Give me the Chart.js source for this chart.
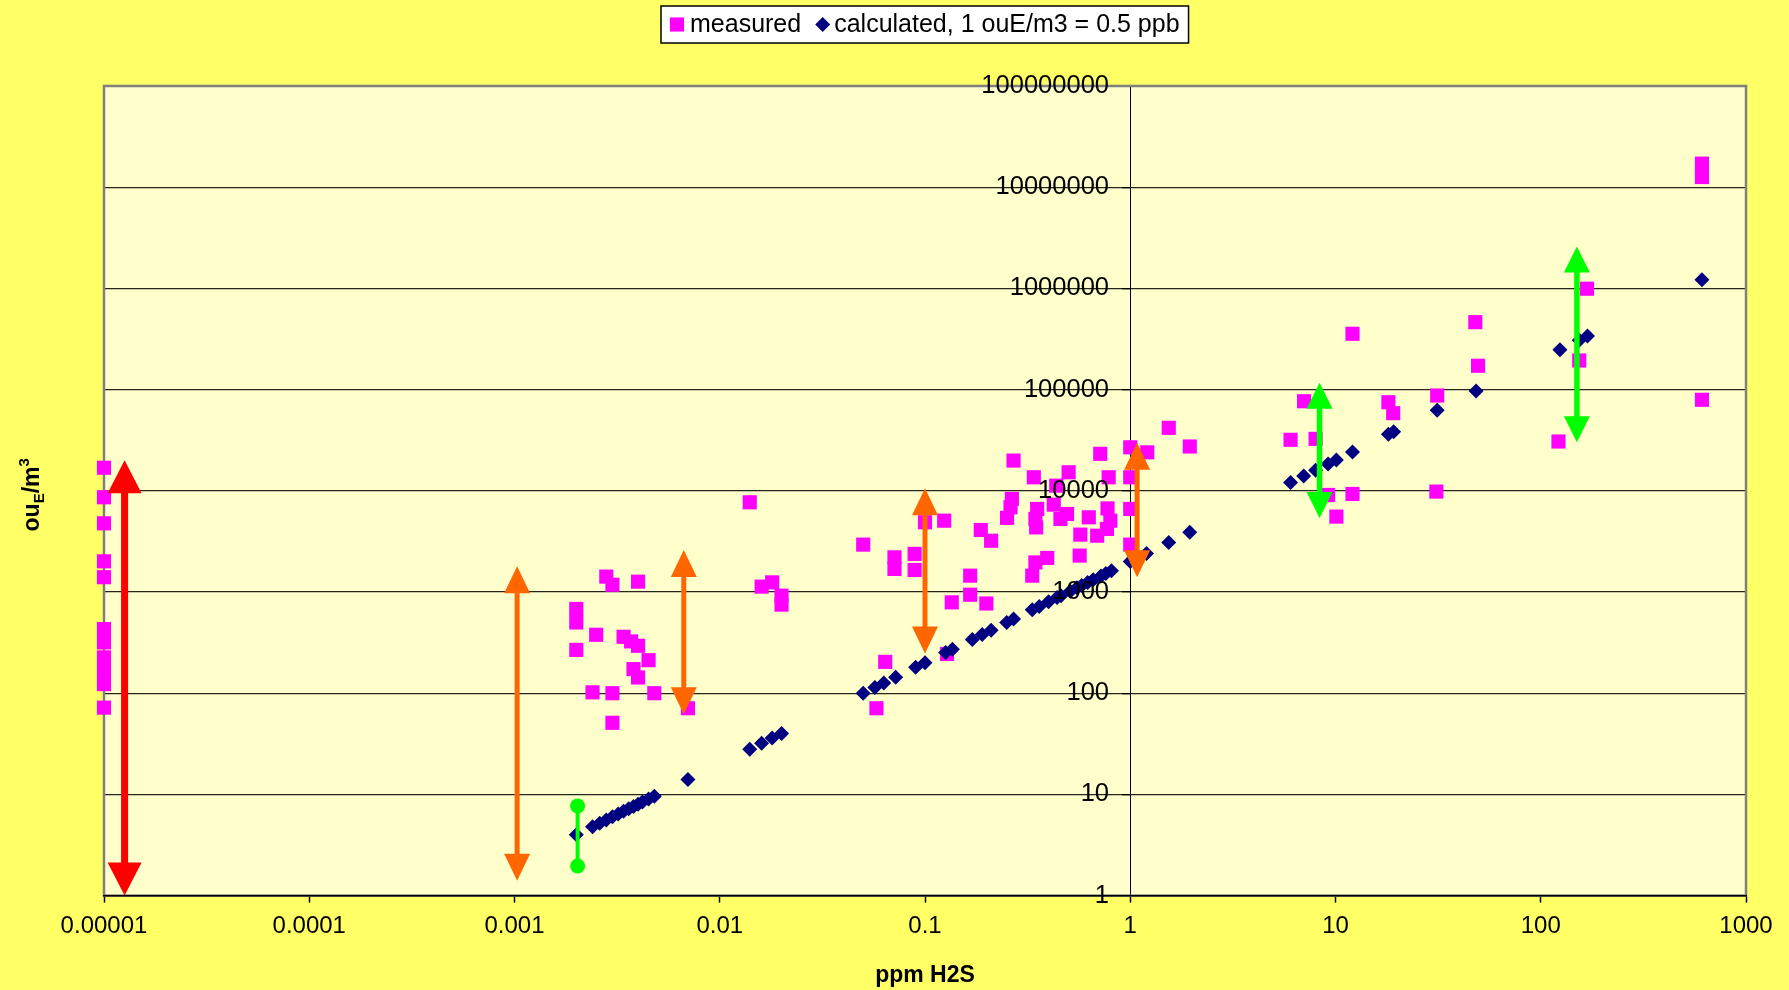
<!DOCTYPE html>
<html>
<head>
<meta charset="utf-8">
<script src="https://cdn.jsdelivr.net/npm/chart.js@4.4.1/dist/chart.umd.min.js"></script>
<style>
  html, body { margin: 0; padding: 0; background: #FFFF66; }
  #c { display: block; width: 1789px; height: 990px; }
</style>
</head>
<body>
<canvas id="c" width="1789" height="990"></canvas>
<script>
// ---------- data ----------
const xTickLabels = ['0.00001', '0.0001', '0.001', '0.01', '0.1', '1', '10', '100', '1000'];
const yTickLabels = ['1', '10', '100', '1000', '10000', '100000', '1000000', '10000000', '100000000'];

const measuredX = [
  0.00001, 0.00001, 0.00001, 0.00001, 0.00001, 0.00001, 0.00001, 0.00001, 0.00001, 0.00001, 0.00001,
  0.0028, 0.0030, 0.0040, 0.0020, 0.0020, 0.0025, 0.0020, 0.0034, 0.0037, 0.0040, 0.0045, 0.0038, 0.0040,
  0.0024, 0.0030, 0.0048, 0.0030, 0.0070,
  0.014, 0.016, 0.018, 0.020, 0.020,
  0.050, 0.071, 0.071, 0.089, 0.089, 0.100, 0.124, 0.064, 0.058, 0.135, 0.128, 0.166, 0.166, 0.199,
  0.187, 0.210, 0.270, 0.265, 0.261, 0.251,
  0.339, 0.352, 0.345, 0.348, 0.345, 0.333, 0.394, 0.436, 0.424, 0.457, 0.492, 0.501, 0.628, 0.571,
  0.567, 0.69, 0.714, 0.785, 0.775, 0.80, 0.77, 1.0, 1.21, 1.54, 1.95, 1.0, 1.0, 1.0,
  6.04, 7.03, 8.0, 9.2, 10.1, 12.1, 12.1, 18.1, 19.1, 31.3, 31.0, 48, 49.5, 122, 154, 168, 610, 610, 610
];
const measuredY = [
  16900, 8630, 4770, 2010, 1400, 430, 318, 226, 167, 123, 72,
  1420, 1180, 1265, 680, 500, 378, 268, 361, 325, 294, 212, 173, 143,
  102, 100, 100, 51, 71,
  7700, 1130, 1245, 920, 750,
  2940, 2200, 1690, 2380, 1650, 4890, 5070, 204, 71, 790, 244, 1450, 940, 770,
  4100, 3210, 19900, 8320, 6870, 5400,
  13600, 6620, 5270, 4350, 1960, 1450, 2170, 11250, 7300, 5270, 5900, 15240, 5470, 3690,
  2290, 3600, 23200, 13600, 6700, 5070, 4200, 26900, 24000, 41900, 27400, 13600, 6620, 2940,
  31900, 76700, 32600, 9100, 5560, 356000, 9310, 75000, 58500, 87400, 9820, 464000, 172000, 30700, 194000, 993000,
  17100000, 12600000, 79300
];

const calculatedX = [
  0.0020, 0.0024, 0.0026, 0.0028, 0.0030, 0.0032, 0.0034, 0.0036, 0.0038, 0.0040, 0.0042, 0.0045, 0.0048, 0.0070,
  0.014, 0.016, 0.018, 0.020,
  0.050, 0.057, 0.063, 0.072, 0.090, 0.100, 0.126, 0.136, 0.170, 0.190, 0.210, 0.250, 0.270, 0.333, 0.360,
  0.400, 0.440, 0.460, 0.510, 0.550, 0.580, 0.620, 0.660, 0.720, 0.760, 0.810, 1.00, 1.20, 1.54, 1.95,
  6.04, 7.0, 8.0, 9.2, 10.1, 12.1, 18.1, 19.2, 31.3, 48.4, 124, 154, 169, 610
];
const calculatedY = [
  4, 4.8, 5.2, 5.6, 6, 6.4, 6.8, 7.2, 7.6, 8, 8.4, 9, 9.6, 14,
  28, 32, 36, 40,
  100, 114, 126, 144, 180, 200, 252, 272, 340, 380, 420, 500, 540, 666, 720,
  800, 880, 920, 1020, 1100, 1160, 1240, 1320, 1440, 1520, 1620, 2000, 2400, 3080, 3900,
  12080, 14000, 16000, 18400, 20200, 24200, 36200, 38400, 62600, 96800, 248000, 308000, 338000, 1220000
];

// range arrows (x, upper tip, lower tip)
const arrowX      = [0.0000126, 0.00103, 0.00668, 0.1, 1.08, 8.36, 150];
const arrowTop    = [20000, 1800, 2600, 10600, 29800, 117000, 2600000];
const arrowBottom = [1, 1.4, 62, 247, 1400, 5400, 30200];
const arrowKind   = ['red', 'orange', 'orange', 'orange', 'orange', 'green', 'green'];

// range bar with round ends
const barX      = [0.00203];
const barTop    = [7.7];
const barBottom = [1.96];

// ---------- styles ----------
const FONT = "'Liberation Sans', Arial, sans-serif";
const arrowStyles = {
  red:    { color: '#FF0000', shaft: 7,   headW: 34, headL: 33 },
  orange: { color: '#FF6600', shaft: 5,   headW: 26, headL: 27 },
  green:  { color: '#00FF00', shaft: 5.5, headW: 26, headL: 26 }
};
const barStyle = { color: '#00FF00', width: 4, radius: 7.5 };
const Y_LABEL_GAP = '\u00A0\u00A0\u00A0';

// ---------- plugins ----------
const plotBg = {
  id: 'plotBg',
  beforeDraw(chart) {
    const { ctx, chartArea: a } = chart;
    ctx.save();
    ctx.fillStyle = '#FFFF66';
    ctx.fillRect(0, 0, chart.width, chart.height);
    ctx.fillStyle = '#FFFFCC';
    ctx.fillRect(a.left, a.top, a.right - a.left, a.bottom - a.top);
    ctx.restore();
  },
  beforeDatasetsDraw(chart) {
    const { ctx, chartArea: a } = chart;
    ctx.save();
    ctx.strokeStyle = '#808080';
    ctx.lineWidth = 2.5;
    ctx.strokeRect(a.left, a.top, a.right - a.left, a.bottom - a.top);
    ctx.restore();
  }
};

const rangeArrows = {
  id: 'rangeArrows',
  afterDatasetsDraw(chart) {
    const { ctx } = chart;
    const xs = chart.scales.x, ys = chart.scales.y;
    ctx.save();
    arrowX.forEach((xv, i) => {
      const st = arrowStyles[arrowKind[i]];
      const x = xs.getPixelForValue(xv);
      const yT = ys.getPixelForValue(arrowTop[i]);
      const yB = ys.getPixelForValue(arrowBottom[i]);
      ctx.fillStyle = st.color;
      ctx.strokeStyle = st.color;
      ctx.lineWidth = st.shaft;
      ctx.beginPath();
      ctx.moveTo(x, yT + st.headL - 1);
      ctx.lineTo(x, yB - st.headL + 1);
      ctx.stroke();
      ctx.beginPath();
      ctx.moveTo(x, yT);
      ctx.lineTo(x - st.headW / 2, yT + st.headL);
      ctx.lineTo(x + st.headW / 2, yT + st.headL);
      ctx.closePath();
      ctx.fill();
      ctx.beginPath();
      ctx.moveTo(x, yB);
      ctx.lineTo(x - st.headW / 2, yB - st.headL);
      ctx.lineTo(x + st.headW / 2, yB - st.headL);
      ctx.closePath();
      ctx.fill();
    });
    barX.forEach((xv, i) => {
      const x = xs.getPixelForValue(xv);
      const yT = ys.getPixelForValue(barTop[i]);
      const yB = ys.getPixelForValue(barBottom[i]);
      ctx.strokeStyle = barStyle.color;
      ctx.fillStyle = barStyle.color;
      ctx.lineWidth = barStyle.width;
      ctx.beginPath();
      ctx.moveTo(x, yT);
      ctx.lineTo(x, yB);
      ctx.stroke();
      [yT, yB].forEach(y => {
        ctx.beginPath();
        ctx.arc(x, y, barStyle.radius, 0, Math.PI * 2);
        ctx.fill();
      });
    });
    ctx.restore();
  }
};

function marker(ctx, style, radius, x, y) {
  if (Chart.helpers && Chart.helpers.drawPoint) {
    Chart.helpers.drawPoint(ctx, { pointStyle: style, radius: radius, borderWidth: 0, rotation: 0 }, x, y);
    return;
  }
  ctx.beginPath();
  if (style === 'rect') {
    const s = radius * Math.SQRT1_2;
    ctx.rect(x - s, y - s, 2 * s, 2 * s);
  } else {
    ctx.moveTo(x - radius, y); ctx.lineTo(x, y - radius);
    ctx.lineTo(x + radius, y); ctx.lineTo(x, y + radius); ctx.closePath();
  }
  ctx.fill();
}

const boxLegend = {
  id: 'boxLegend',
  afterDraw(chart) {
    const ctx = chart.ctx;
    const ds = chart.data.datasets;
    const a = chart.chartArea;
    ctx.save();
    ctx.font = `25px ${FONT}`;
    const w0 = ctx.measureText(ds[0].label).width;
    const w1 = ctx.measureText(ds[1].label).width;
    const padX = 9, mk0 = 14, g1 = 6, g2 = 14, mk1 = 15, g3 = 4;
    const total = padX + mk0 + g1 + w0 + g2 + mk1 + g3 + w1 + padX;
    const left = Math.round((a.left + a.right) / 2 - total / 2);
    const top = 6, h = 37, cy = top + h / 2;
    ctx.fillStyle = '#FFFFFF';
    ctx.fillRect(left, top, total, h);
    ctx.strokeStyle = '#000000';
    ctx.lineWidth = 1.5;
    ctx.strokeRect(left, top, total, h);
    let x = left + padX;
    ctx.fillStyle = ds[0].backgroundColor;
    marker(ctx, ds[0].pointStyle, ds[0].pointRadius, x + mk0 / 2, cy);
    x += mk0 + g1;
    ctx.fillStyle = '#000';
    ctx.textBaseline = 'middle';
    ctx.textAlign = 'left';
    ctx.fillText(ds[0].label, x, cy + 1);
    x += w0 + g2;
    ctx.fillStyle = ds[1].backgroundColor;
    marker(ctx, ds[1].pointStyle, ds[1].pointRadius, x + mk1 / 2, cy);
    x += mk1 + g3;
    ctx.fillStyle = '#000';
    ctx.fillText(ds[1].label, x, cy + 1);
    ctx.restore();
  }
};

const yTitle = {
  id: 'yTitle',
  afterDraw(chart) {
    const ctx = chart.ctx, a = chart.chartArea;
    const big = `bold 23px ${FONT}`, small = `bold 15px ${FONT}`;
    const segs = [
      { t: 'ou', f: big, dy: 0 },
      { t: 'E', f: small, dy: 5 },
      { t: '/m', f: big, dy: 0 },
      { t: '3', f: small, dy: -10 }
    ];
    ctx.save();
    let total = 0;
    segs.forEach(s => { ctx.font = s.f; s.w = ctx.measureText(s.t).width; total += s.w; });
    ctx.translate(39, (a.top + a.bottom) / 2 + 4);
    ctx.rotate(-Math.PI / 2);
    ctx.fillStyle = '#000';
    ctx.textBaseline = 'alphabetic';
    ctx.textAlign = 'left';
    let x = -total / 2;
    segs.forEach(s => { ctx.font = s.f; ctx.fillText(s.t, x, s.dy); x += s.w; });
    ctx.restore();
  }
};

// ---------- chart ----------
new Chart(document.getElementById('c'), {
  type: 'scatter',
  data: {
    datasets: [
      {
        label: 'measured',
        data: measuredX.map((x, i) => ({ x: x, y: measuredY[i] })),
        pointStyle: 'rect',
        pointRadius: 10,
        pointBorderWidth: 0,
        backgroundColor: '#FF00FF',
        borderColor: '#FF00FF',
        clip: false,
        order: 2
      },
      {
        label: 'calculated, 1 ouE/m3 = 0.5 ppb',
        data: calculatedX.map((x, i) => ({ x: x, y: calculatedY[i] })),
        pointStyle: 'rectRot',
        pointRadius: 7.5,
        pointBorderWidth: 0,
        backgroundColor: '#000080',
        borderColor: '#000080',
        clip: false,
        order: 1
      }
    ]
  },
  options: {
    responsive: false,
    animation: false,
    devicePixelRatio: 1,
    events: [],
    layout: { padding: { left: 104, right: 43, top: 86, bottom: 0 } },
    plugins: {
      legend: { display: false },
      tooltip: { enabled: false },
      title: { display: false }
    },
    scales: {
      x: {
        type: 'logarithmic',
        position: 'bottom',
        min: 1e-5,
        max: 1000,
        afterBuildTicks: s => { s.ticks = xTickLabels.map(v => ({ value: Number(v) })); },
        ticks: {
          callback: (v, i) => xTickLabels[i],
          font: { family: FONT, size: 24 },
          color: '#000',
          padding: 9,
          maxRotation: 0,
          autoSkip: false
        },
        grid: { drawOnChartArea: false, drawTicks: true, tickLength: 7, tickColor: '#000', tickWidth: 1.5 },
        border: { display: true, color: '#000', width: 1.5, z: 1 },
        title: {
          display: true,
          text: 'ppm H2S',
          font: { family: FONT, size: 23, weight: 'bold' },
          color: '#000',
          padding: { top: 12, bottom: 1 }
        }
      },
      y: {
        type: 'logarithmic',
        position: { x: 1 },
        min: 1,
        max: 1e8,
        afterBuildTicks: s => { s.ticks = yTickLabels.map(v => ({ value: Number(v) })); },
        ticks: {
          callback: (v, i) => yTickLabels[i] + Y_LABEL_GAP,
          font: { family: FONT, size: 25.5 },
          color: '#000',
          padding: 11,
          z: 1,
          autoSkip: false
        },
        grid: { color: 'rgba(0,0,0,0.85)', lineWidth: 1.3, drawTicks: true, tickLength: 8, tickColor: '#000' },
        border: { display: true, color: '#000', width: 1 },
        title: { display: false }
      }
    }
  },
  plugins: [plotBg, rangeArrows, boxLegend, yTitle]
});
</script>
</body>
</html>
